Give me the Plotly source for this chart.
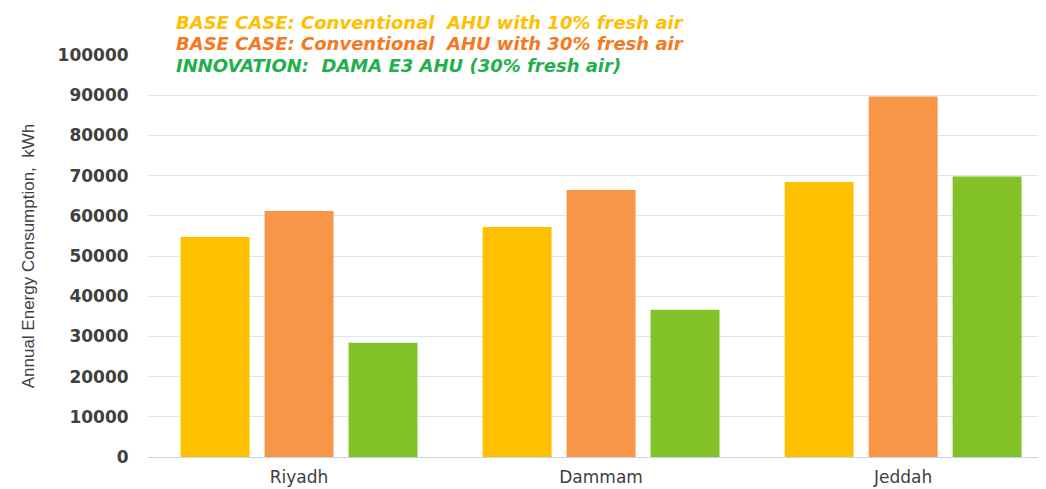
import plotly.graph_objects as go

cities = ["Riyadh", "Dammam", "Jeddah"]
series_names = [
    "BASE CASE: Conventional  AHU with 10% fresh air",
    "BASE CASE: Conventional  AHU with 30% fresh air",
    "INNOVATION:  DAMA E3 AHU (30% fresh air)",
]
base_10 = [54700, 57200, 68400]
base_30 = [61200, 66400, 89700]
innovation = [28400, 36600, 69800]
series_values = [base_10, base_30, innovation]

bar_colors = ["#FFC000", "#F79646", "#82C226"]
text_colors = ["#FFC000", "#F47A22", "#22B04C"]
y_ticks = [0, 10000, 20000, 30000, 40000, 50000, 60000, 70000, 80000, 90000, 100000]
y_title = "Annual Energy Consumption,  kWh"

# page body has an 8px default margin, so the figure is sized to fill the remaining window
W, H = 1038, 481
L, R, T, B = 140, 0, 47, 32
pw, ph = W - L - R, H - T - B

fig = go.Figure()
for name, vals, col in zip(series_names, series_values, bar_colors):
    fig.add_trace(go.Bar(x=cities, y=vals, name=name,
                         marker=dict(color=col, line=dict(width=0))))

legend_px = [(166, 15), (166, 36), (166, 57)]
for (px, py), name, col in zip(legend_px, series_names, text_colors):
    fig.add_annotation(
        text="<b><i>" + name + "</i></b>",
        x=(px - L) / pw, y=1 - (py - T) / ph,
        xref="paper", yref="paper", showarrow=False, xanchor="left", yanchor="middle",
        font=dict(family="DejaVu Sans", size=18, color=col),
    )

fig.update_layout(
    width=W, height=H,
    margin=dict(l=L, r=R, t=T, b=B, pad=0, autoexpand=False),
    plot_bgcolor="white", paper_bgcolor="white",
    barmode="group", bargap=0.166, bargroupgap=0.179,
    showlegend=False,
    xaxis=dict(
        range=[-0.5, 2.473], showgrid=False, showline=True, linecolor="#C3D3E8", linewidth=1,
        ticks="outside", ticklen=5, tickcolor="rgba(0,0,0,0)", automargin=False,
        tickfont=dict(family="DejaVu Sans", size=17, color="#404040"),
    ),
    yaxis=dict(
        range=[0, 100000], tickvals=y_ticks, ticktext=[str(v) for v in y_ticks],
        showgrid=True, gridcolor="#DDE7F3", gridwidth=1, zeroline=False,
        ticks="outside", ticklen=15, tickcolor="rgba(0,0,0,0)", automargin=False,
        tickfont=dict(family="DejaVu Sans", size=17, color="#404040", weight="bold"),
        title=dict(text=y_title, standoff=18,
                   font=dict(family="Liberation Sans Narrow, Arial Narrow, sans-serif",
                             size=17, color="#404040")),
    ),
)
fig.write_html("out.html")
